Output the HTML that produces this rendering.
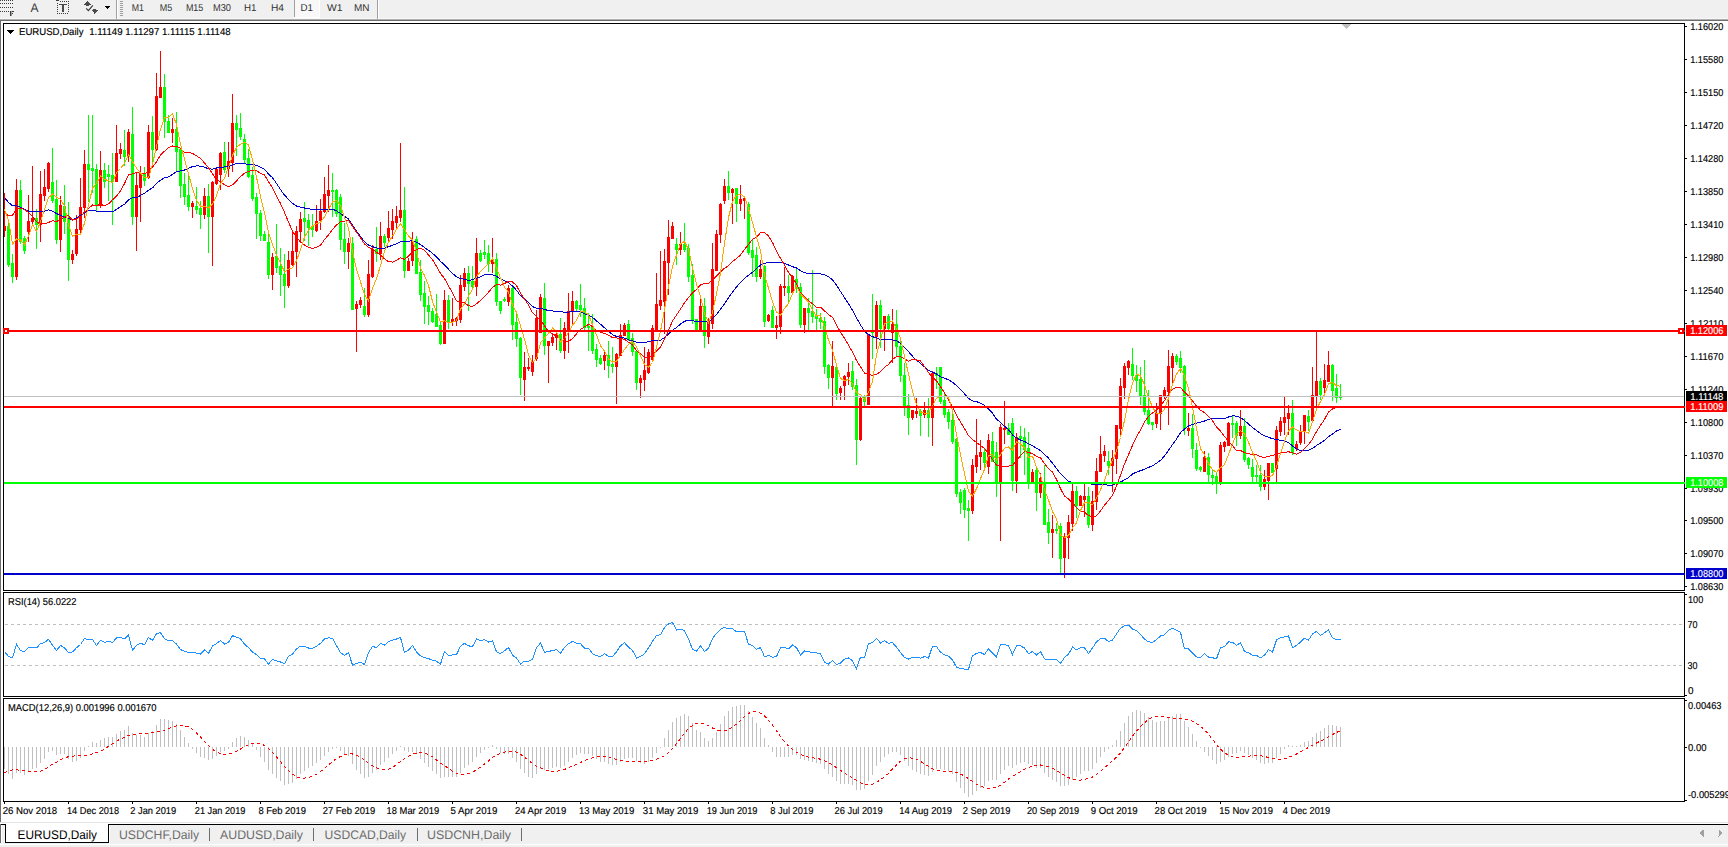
<!DOCTYPE html>
<html><head><meta charset="utf-8"><title>EURUSD,Daily</title>
<style>
html,body{margin:0;padding:0;background:#fff;overflow:hidden;width:1728px;height:847px}
svg{display:block}
text{font-family:"Liberation Sans", sans-serif;text-rendering:geometricPrecision}
</style></head><body>
<svg width="1728" height="847" viewBox="0 0 1728 847" shape-rendering="crispEdges">
<rect x="0" y="0" width="1728" height="19" fill="#f0f0f0"/>
<rect x="0" y="18" width="1728" height="1" fill="#f7f7f7"/>
<rect x="0" y="19" width="1728" height="1" fill="#b0b0b0"/>
<rect x="0" y="20" width="1728" height="1" fill="#6e6e6e"/>
<rect x="116" y="0" width="1" height="19" fill="#a0a0a0"/>
<rect x="117" y="0" width="1" height="19" fill="#ffffff"/>
<rect x="377" y="0" width="1" height="19" fill="#a0a0a0"/>
<rect x="378" y="0" width="1" height="19" fill="#ffffff"/>
<rect x="294" y="0" width="1" height="17" fill="#a0a0a0"/>
<rect x="295" y="0" width="24" height="17" fill="#f8f8f8"/>
<rect x="319" y="0" width="1" height="18" fill="#ffffff"/>
<rect x="294" y="17" width="26" height="1" fill="#ffffff"/>
<rect x="120" y="1" width="3" height="1" fill="#a0a0a0"/>
<rect x="120" y="3" width="3" height="1" fill="#a0a0a0"/>
<rect x="120" y="5" width="3" height="1" fill="#a0a0a0"/>
<rect x="120" y="7" width="3" height="1" fill="#a0a0a0"/>
<rect x="120" y="9" width="3" height="1" fill="#a0a0a0"/>
<rect x="120" y="11" width="3" height="1" fill="#a0a0a0"/>
<rect x="120" y="13" width="3" height="1" fill="#a0a0a0"/>
<rect x="120" y="15" width="3" height="1" fill="#a0a0a0"/>
<text x="131.8" y="11" font-size="10" fill="#303030" textLength="12.2" lengthAdjust="spacingAndGlyphs">M1</text>
<text x="159.8" y="11" font-size="10" fill="#303030" textLength="12.5" lengthAdjust="spacingAndGlyphs">M5</text>
<text x="185.9" y="11" font-size="10" fill="#303030" textLength="17.4" lengthAdjust="spacingAndGlyphs">M15</text>
<text x="213" y="11" font-size="10" fill="#303030" textLength="18" lengthAdjust="spacingAndGlyphs">M30</text>
<text x="244" y="11" font-size="10" fill="#303030" textLength="12.5" lengthAdjust="spacingAndGlyphs">H1</text>
<text x="271" y="11" font-size="10" fill="#303030" textLength="13" lengthAdjust="spacingAndGlyphs">H4</text>
<text x="300.5" y="11" font-size="10" fill="#303030" textLength="12.5" lengthAdjust="spacingAndGlyphs">D1</text>
<text x="327" y="11" font-size="10" fill="#303030" textLength="15.5" lengthAdjust="spacingAndGlyphs">W1</text>
<text x="354" y="11" font-size="10" fill="#303030" textLength="15.5" lengthAdjust="spacingAndGlyphs">MN</text>
<rect x="0" y="21" width="1728" height="801" fill="#ffffff"/>
<rect x="0" y="20" width="1" height="802" fill="#6e6e6e"/>
<rect x="3" y="23" width="1682" height="1" fill="#000"/>
<rect x="3" y="590" width="1682" height="1" fill="#000"/>
<rect x="3" y="23" width="1" height="568" fill="#000"/>
<rect x="1684" y="23" width="1" height="568" fill="#000"/>
<rect x="3" y="592" width="1682" height="1" fill="#000"/>
<rect x="3" y="696" width="1682" height="1" fill="#000"/>
<rect x="3" y="592" width="1" height="105" fill="#000"/>
<rect x="1684" y="592" width="1" height="105" fill="#000"/>
<rect x="3" y="698" width="1682" height="1" fill="#000"/>
<rect x="3" y="801" width="1682" height="1" fill="#000"/>
<rect x="3" y="698" width="1" height="104" fill="#000"/>
<rect x="1684" y="698" width="1" height="104" fill="#000"/>
<defs><clipPath id="mainclip"><rect x="4" y="24" width="1680" height="566"/></clipPath><clipPath id="rsiclip"><rect x="4" y="593" width="1680" height="103"/></clipPath><clipPath id="macdclip"><rect x="4" y="699" width="1680" height="102"/></clipPath></defs>
<rect x="1685" y="26" width="2" height="1" fill="#000"/>
<text x="1690.2" y="30" font-size="10" fill="#000" stroke="#000" stroke-width="0.15" textLength="33.2" lengthAdjust="spacingAndGlyphs">1.16020</text>
<rect x="1685" y="59" width="2" height="1" fill="#000"/>
<text x="1690.2" y="63" font-size="10" fill="#000" stroke="#000" stroke-width="0.15" textLength="33.2" lengthAdjust="spacingAndGlyphs">1.15580</text>
<rect x="1685" y="92" width="2" height="1" fill="#000"/>
<text x="1690.2" y="96" font-size="10" fill="#000" stroke="#000" stroke-width="0.15" textLength="33.2" lengthAdjust="spacingAndGlyphs">1.15150</text>
<rect x="1685" y="125" width="2" height="1" fill="#000"/>
<text x="1690.2" y="129" font-size="10" fill="#000" stroke="#000" stroke-width="0.15" textLength="33.2" lengthAdjust="spacingAndGlyphs">1.14720</text>
<rect x="1685" y="158" width="2" height="1" fill="#000"/>
<text x="1690.2" y="162" font-size="10" fill="#000" stroke="#000" stroke-width="0.15" textLength="33.2" lengthAdjust="spacingAndGlyphs">1.14280</text>
<rect x="1685" y="191" width="2" height="1" fill="#000"/>
<text x="1690.2" y="195" font-size="10" fill="#000" stroke="#000" stroke-width="0.15" textLength="33.2" lengthAdjust="spacingAndGlyphs">1.13850</text>
<rect x="1685" y="224" width="2" height="1" fill="#000"/>
<text x="1690.2" y="228" font-size="10" fill="#000" stroke="#000" stroke-width="0.15" textLength="33.2" lengthAdjust="spacingAndGlyphs">1.13410</text>
<rect x="1685" y="257" width="2" height="1" fill="#000"/>
<text x="1690.2" y="261" font-size="10" fill="#000" stroke="#000" stroke-width="0.15" textLength="33.2" lengthAdjust="spacingAndGlyphs">1.12980</text>
<rect x="1685" y="290" width="2" height="1" fill="#000"/>
<text x="1690.2" y="294" font-size="10" fill="#000" stroke="#000" stroke-width="0.15" textLength="33.2" lengthAdjust="spacingAndGlyphs">1.12540</text>
<rect x="1685" y="323" width="2" height="1" fill="#000"/>
<text x="1690.2" y="327" font-size="10" fill="#000" stroke="#000" stroke-width="0.15" textLength="33.2" lengthAdjust="spacingAndGlyphs">1.12110</text>
<rect x="1685" y="356" width="2" height="1" fill="#000"/>
<text x="1690.2" y="360" font-size="10" fill="#000" stroke="#000" stroke-width="0.15" textLength="33.2" lengthAdjust="spacingAndGlyphs">1.11670</text>
<rect x="1685" y="389" width="2" height="1" fill="#000"/>
<text x="1690.2" y="393" font-size="10" fill="#000" stroke="#000" stroke-width="0.15" textLength="33.2" lengthAdjust="spacingAndGlyphs">1.11240</text>
<rect x="1685" y="422" width="2" height="1" fill="#000"/>
<text x="1690.2" y="426" font-size="10" fill="#000" stroke="#000" stroke-width="0.15" textLength="33.2" lengthAdjust="spacingAndGlyphs">1.10800</text>
<rect x="1685" y="455" width="2" height="1" fill="#000"/>
<text x="1690.2" y="459" font-size="10" fill="#000" stroke="#000" stroke-width="0.15" textLength="33.2" lengthAdjust="spacingAndGlyphs">1.10370</text>
<rect x="1685" y="488" width="2" height="1" fill="#000"/>
<text x="1690.2" y="492" font-size="10" fill="#000" stroke="#000" stroke-width="0.15" textLength="33.2" lengthAdjust="spacingAndGlyphs">1.09930</text>
<rect x="1685" y="520" width="2" height="1" fill="#000"/>
<text x="1690.2" y="524" font-size="10" fill="#000" stroke="#000" stroke-width="0.15" textLength="33.2" lengthAdjust="spacingAndGlyphs">1.09500</text>
<rect x="1685" y="553" width="2" height="1" fill="#000"/>
<text x="1690.2" y="557" font-size="10" fill="#000" stroke="#000" stroke-width="0.15" textLength="33.2" lengthAdjust="spacingAndGlyphs">1.09070</text>
<rect x="1685" y="586" width="2" height="1" fill="#000"/>
<text x="1690.2" y="590" font-size="10" fill="#000" stroke="#000" stroke-width="0.15" textLength="33.2" lengthAdjust="spacingAndGlyphs">1.08630</text>
<path d="M7,30 h7 l-3.5,4 z" fill="#000"/>
<text x="19" y="35" font-size="10" fill="#000" stroke="#000" stroke-width="0.15" textLength="64.5" lengthAdjust="spacingAndGlyphs">EURUSD,Daily</text>
<text x="89.2" y="35" font-size="10" fill="#000" stroke="#000" stroke-width="0.15" textLength="141.5" lengthAdjust="spacingAndGlyphs">1.11149 1.11297 1.11115 1.11148</text>
<rect x="1342" y="24" width="9" height="1" fill="#c0c0c0"/>
<rect x="1343" y="25" width="7" height="1" fill="#c0c0c0"/>
<rect x="1344" y="26" width="5" height="1" fill="#c0c0c0"/>
<rect x="1345" y="27" width="3" height="1" fill="#c0c0c0"/>
<rect x="1346" y="28" width="1" height="1" fill="#c0c0c0"/>
<text x="8" y="605" font-size="10" fill="#000" stroke="#000" stroke-width="0.15" textLength="68.5" lengthAdjust="spacingAndGlyphs">RSI(14) 56.0222</text>
<text x="1688" y="603" font-size="10" fill="#000" stroke="#000" stroke-width="0.15" textLength="15.2" lengthAdjust="spacingAndGlyphs">100</text>
<text x="1687.5" y="628" font-size="10" fill="#000" stroke="#000" stroke-width="0.15" textLength="10" lengthAdjust="spacingAndGlyphs">70</text>
<text x="1687.5" y="669" font-size="10" fill="#000" stroke="#000" stroke-width="0.15" textLength="10" lengthAdjust="spacingAndGlyphs">30</text>
<text x="1688" y="693.5" font-size="10" fill="#000" stroke="#000" stroke-width="0.15" textLength="5.5" lengthAdjust="spacingAndGlyphs">0</text>
<rect x="1685" y="594" width="2" height="1" fill="#000"/>
<rect x="1685" y="695" width="2" height="1" fill="#000"/>
<line x1="5" y1="624.5" x2="1683" y2="624.5" stroke="#c0c0c0" stroke-width="1" stroke-dasharray="3,3"/>
<line x1="5" y1="665.5" x2="1683" y2="665.5" stroke="#c0c0c0" stroke-width="1" stroke-dasharray="3,3"/>
<text x="8" y="711" font-size="10" fill="#000" stroke="#000" stroke-width="0.15" textLength="148.5" lengthAdjust="spacingAndGlyphs">MACD(12,26,9) 0.001996 0.001670</text>
<text x="1688" y="709" font-size="10" fill="#000" stroke="#000" stroke-width="0.15" textLength="33.5" lengthAdjust="spacingAndGlyphs">0.00463</text>
<text x="1688" y="750.5" font-size="10" fill="#000" stroke="#000" stroke-width="0.15" textLength="18.5" lengthAdjust="spacingAndGlyphs">0.00</text>
<text x="1688" y="797.6" font-size="10" fill="#000" stroke="#000" stroke-width="0.15" textLength="42" lengthAdjust="spacingAndGlyphs">-0.005299</text>
<rect x="1685" y="700" width="2" height="1" fill="#000"/>
<rect x="1685" y="747" width="2" height="1" fill="#000"/>
<rect x="1685" y="800" width="2" height="1" fill="#000"/>
<rect x="4" y="802" width="1" height="2" fill="#000"/>
<text x="2.7" y="814" font-size="10" fill="#000" stroke="#000" stroke-width="0.15" textLength="54.5" lengthAdjust="spacingAndGlyphs">26 Nov 2018</text>
<rect x="68" y="802" width="1" height="2" fill="#000"/>
<text x="67.0" y="814" font-size="10" fill="#000" stroke="#000" stroke-width="0.15" textLength="52.1" lengthAdjust="spacingAndGlyphs">14 Dec 2018</text>
<rect x="132" y="802" width="1" height="2" fill="#000"/>
<text x="130.3" y="814" font-size="10" fill="#000" stroke="#000" stroke-width="0.15" textLength="45.9" lengthAdjust="spacingAndGlyphs">2 Jan 2019</text>
<rect x="196" y="802" width="1" height="2" fill="#000"/>
<text x="194.8" y="814" font-size="10" fill="#000" stroke="#000" stroke-width="0.15" textLength="50.6" lengthAdjust="spacingAndGlyphs">21 Jan 2019</text>
<rect x="260" y="802" width="1" height="2" fill="#000"/>
<text x="258.4" y="814" font-size="10" fill="#000" stroke="#000" stroke-width="0.15" textLength="47.7" lengthAdjust="spacingAndGlyphs">8 Feb 2019</text>
<rect x="324" y="802" width="1" height="2" fill="#000"/>
<text x="322.7" y="814" font-size="10" fill="#000" stroke="#000" stroke-width="0.15" textLength="52.6" lengthAdjust="spacingAndGlyphs">27 Feb 2019</text>
<rect x="388" y="802" width="1" height="2" fill="#000"/>
<text x="386.6" y="814" font-size="10" fill="#000" stroke="#000" stroke-width="0.15" textLength="52.5" lengthAdjust="spacingAndGlyphs">18 Mar 2019</text>
<rect x="452" y="802" width="1" height="2" fill="#000"/>
<text x="450.5" y="814" font-size="10" fill="#000" stroke="#000" stroke-width="0.15" textLength="46.9" lengthAdjust="spacingAndGlyphs">5 Apr 2019</text>
<rect x="516" y="802" width="1" height="2" fill="#000"/>
<text x="514.9" y="814" font-size="10" fill="#000" stroke="#000" stroke-width="0.15" textLength="51.3" lengthAdjust="spacingAndGlyphs">24 Apr 2019</text>
<rect x="580" y="802" width="1" height="2" fill="#000"/>
<text x="578.9" y="814" font-size="10" fill="#000" stroke="#000" stroke-width="0.15" textLength="55.4" lengthAdjust="spacingAndGlyphs">13 May 2019</text>
<rect x="644" y="802" width="1" height="2" fill="#000"/>
<text x="642.8" y="814" font-size="10" fill="#000" stroke="#000" stroke-width="0.15" textLength="55.5" lengthAdjust="spacingAndGlyphs">31 May 2019</text>
<rect x="708" y="802" width="1" height="2" fill="#000"/>
<text x="706.7" y="814" font-size="10" fill="#000" stroke="#000" stroke-width="0.15" textLength="50.7" lengthAdjust="spacingAndGlyphs">19 Jun 2019</text>
<rect x="772" y="802" width="1" height="2" fill="#000"/>
<text x="770.2" y="814" font-size="10" fill="#000" stroke="#000" stroke-width="0.15" textLength="43.2" lengthAdjust="spacingAndGlyphs">8 Jul 2019</text>
<rect x="836" y="802" width="1" height="2" fill="#000"/>
<text x="834.6" y="814" font-size="10" fill="#000" stroke="#000" stroke-width="0.15" textLength="48.0" lengthAdjust="spacingAndGlyphs">26 Jul 2019</text>
<rect x="900" y="802" width="1" height="2" fill="#000"/>
<text x="899.3" y="814" font-size="10" fill="#000" stroke="#000" stroke-width="0.15" textLength="52.8" lengthAdjust="spacingAndGlyphs">14 Aug 2019</text>
<rect x="964" y="802" width="1" height="2" fill="#000"/>
<text x="962.8" y="814" font-size="10" fill="#000" stroke="#000" stroke-width="0.15" textLength="47.6" lengthAdjust="spacingAndGlyphs">2 Sep 2019</text>
<rect x="1028" y="802" width="1" height="2" fill="#000"/>
<text x="1027.0" y="814" font-size="10" fill="#000" stroke="#000" stroke-width="0.15" textLength="52.2" lengthAdjust="spacingAndGlyphs">20 Sep 2019</text>
<rect x="1092" y="802" width="1" height="2" fill="#000"/>
<text x="1090.7" y="814" font-size="10" fill="#000" stroke="#000" stroke-width="0.15" textLength="46.9" lengthAdjust="spacingAndGlyphs">9 Oct 2019</text>
<rect x="1156" y="802" width="1" height="2" fill="#000"/>
<text x="1154.6" y="814" font-size="10" fill="#000" stroke="#000" stroke-width="0.15" textLength="51.9" lengthAdjust="spacingAndGlyphs">28 Oct 2019</text>
<rect x="1220" y="802" width="1" height="2" fill="#000"/>
<text x="1219.3" y="814" font-size="10" fill="#000" stroke="#000" stroke-width="0.15" textLength="53.6" lengthAdjust="spacingAndGlyphs">15 Nov 2019</text>
<rect x="1284" y="802" width="1" height="2" fill="#000"/>
<text x="1282.8" y="814" font-size="10" fill="#000" stroke="#000" stroke-width="0.15" textLength="47.3" lengthAdjust="spacingAndGlyphs">4 Dec 2019</text>
<rect x="0" y="822" width="1728" height="1" fill="#e3e3e3"/>
<rect x="0" y="823" width="1728" height="1" fill="#ffffff"/>
<rect x="0" y="824" width="6" height="1" fill="#000000"/>
<rect x="108" y="824" width="1620" height="1" fill="#000000"/>
<rect x="0" y="825" width="1728" height="19" fill="#f0f0f0"/>
<rect x="0" y="844" width="1728" height="1" fill="#ffffff"/>
<rect x="0" y="845" width="1728" height="2" fill="#f0f0f0"/>
<rect x="0" y="824" width="1" height="19" fill="#6e6e6e"/>
<rect x="1" y="825" width="1" height="18" fill="#ffffff"/>
<rect x="5" y="824" width="104" height="19" fill="#000"/>
<rect x="6" y="823" width="102" height="19" fill="#ffffff"/>
<rect x="109" y="825" width="1" height="18" fill="#ffffff"/>
<text x="17.5" y="839" font-size="12.5" fill="#000" textLength="79.5" lengthAdjust="spacingAndGlyphs">EURUSD,Daily</text>
<text x="119" y="839" font-size="12.5" fill="#6d6d6d" textLength="80" lengthAdjust="spacingAndGlyphs">USDCHF,Daily</text>
<text x="220" y="839" font-size="12.5" fill="#6d6d6d" textLength="83" lengthAdjust="spacingAndGlyphs">AUDUSD,Daily</text>
<text x="324.6" y="839" font-size="12.5" fill="#6d6d6d" textLength="81.4" lengthAdjust="spacingAndGlyphs">USDCAD,Daily</text>
<text x="427" y="839" font-size="12.5" fill="#6d6d6d" textLength="84" lengthAdjust="spacingAndGlyphs">USDCNH,Daily</text>
<rect x="209" y="828" width="1" height="13" fill="#6d6d6d"/>
<rect x="313" y="828" width="1" height="13" fill="#6d6d6d"/>
<rect x="417" y="828" width="1" height="13" fill="#6d6d6d"/>
<rect x="521" y="828" width="1" height="13" fill="#6d6d6d"/>
<path d="M1703.5,829.5 v7 l-4,-3.5 z" fill="#a0a0a0"/>
<path d="M1718.5,829.5 v7 l4,-3.5 z" fill="#a0a0a0"/>
<rect x="0" y="0" width="1" height="1" fill="#3c3c3c"/>
<rect x="2" y="0" width="1" height="1" fill="#3c3c3c"/>
<rect x="4" y="0" width="1" height="1" fill="#3c3c3c"/>
<rect x="6" y="0" width="1" height="1" fill="#3c3c3c"/>
<rect x="8" y="0" width="1" height="1" fill="#3c3c3c"/>
<rect x="10" y="0" width="1" height="1" fill="#3c3c3c"/>
<rect x="12" y="0" width="1" height="1" fill="#3c3c3c"/>
<rect x="0" y="3" width="1" height="1" fill="#3c3c3c"/>
<rect x="2" y="3" width="1" height="1" fill="#3c3c3c"/>
<rect x="4" y="3" width="1" height="1" fill="#3c3c3c"/>
<rect x="6" y="3" width="1" height="1" fill="#3c3c3c"/>
<rect x="8" y="3" width="1" height="1" fill="#3c3c3c"/>
<rect x="10" y="3" width="1" height="1" fill="#3c3c3c"/>
<rect x="12" y="3" width="1" height="1" fill="#3c3c3c"/>
<rect x="0" y="7" width="1" height="1" fill="#3c3c3c"/>
<rect x="2" y="7" width="1" height="1" fill="#3c3c3c"/>
<rect x="4" y="7" width="1" height="1" fill="#3c3c3c"/>
<rect x="6" y="7" width="1" height="1" fill="#3c3c3c"/>
<rect x="8" y="7" width="1" height="1" fill="#3c3c3c"/>
<rect x="10" y="7" width="1" height="1" fill="#3c3c3c"/>
<rect x="12" y="7" width="1" height="1" fill="#3c3c3c"/>
<rect x="0" y="11" width="1" height="1" fill="#3c3c3c"/>
<rect x="2" y="11" width="1" height="1" fill="#3c3c3c"/>
<rect x="4" y="11" width="1" height="1" fill="#3c3c3c"/>
<rect x="6" y="11" width="1" height="1" fill="#3c3c3c"/>
<rect x="8" y="11" width="1" height="1" fill="#3c3c3c"/>
<rect x="10" y="11" width="1" height="5" fill="#3c3c3c"/>
<rect x="10" y="11" width="4" height="1" fill="#3c3c3c"/>
<rect x="10" y="13" width="3" height="1" fill="#3c3c3c"/>
<rect x="11" y="11" width="1" height="5" fill="#9a9a9a"/>
<text x="30.6" y="12.2" font-size="12.5" fill="#3a3a3a" textLength="8" lengthAdjust="spacingAndGlyphs">A</text>
<rect x="56" y="0" width="3" height="1" fill="#3c3c3c"/>
<rect x="60" y="1" width="1" height="1" fill="#3c3c3c"/>
<rect x="62" y="1" width="1" height="1" fill="#3c3c3c"/>
<rect x="64" y="1" width="1" height="1" fill="#3c3c3c"/>
<rect x="66" y="1" width="1" height="1" fill="#3c3c3c"/>
<rect x="68" y="1" width="1" height="1" fill="#3c3c3c"/>
<rect x="57" y="3" width="1" height="1" fill="#3c3c3c"/>
<rect x="68" y="3" width="1" height="1" fill="#3c3c3c"/>
<rect x="57" y="5" width="1" height="1" fill="#3c3c3c"/>
<rect x="68" y="5" width="1" height="1" fill="#3c3c3c"/>
<rect x="57" y="7" width="1" height="1" fill="#3c3c3c"/>
<rect x="68" y="7" width="1" height="1" fill="#3c3c3c"/>
<rect x="57" y="9" width="1" height="1" fill="#3c3c3c"/>
<rect x="68" y="9" width="1" height="1" fill="#3c3c3c"/>
<rect x="57" y="11" width="1" height="1" fill="#3c3c3c"/>
<rect x="68" y="11" width="1" height="1" fill="#3c3c3c"/>
<rect x="57" y="13" width="1" height="1" fill="#3c3c3c"/>
<rect x="59" y="13" width="1" height="1" fill="#3c3c3c"/>
<rect x="61" y="13" width="1" height="1" fill="#3c3c3c"/>
<rect x="63" y="13" width="1" height="1" fill="#3c3c3c"/>
<rect x="65" y="13" width="1" height="1" fill="#3c3c3c"/>
<rect x="67" y="13" width="1" height="1" fill="#3c3c3c"/>
<rect x="59" y="4" width="8" height="1" fill="#4a4a4a"/>
<rect x="62" y="4" width="2" height="8" fill="#4a4a4a"/>
<path d="M83.8,4.7 L87.4,1 L91,4.7 Z" fill="#4a4a4a"/>
<rect x="86" y="4" width="3" height="2" fill="#4a4a4a"/>
<polyline points="86.2,8.3 88.4,10.6 92.8,5.4" fill="none" stroke="#3a3a3a" stroke-width="1.2" shape-rendering="auto"/>
<path d="M91.3,10 L98.2,10 L94.75,13.8 Z" fill="#4a4a4a"/>
<rect x="93" y="9" width="3" height="1" fill="#4a4a4a"/>
<path d="M104.8,6 L110,6 L107.4,9.2 Z" fill="#000"/>
<g clip-path="url(#mainclip)">
<path d="M4,193h1v44h-1zM16,179h1v101h-1zM28,195h1v47h-1zM32,166h1v60h-1zM40,171h1v71h-1zM44,169h1v32h-1zM48,162h1v30h-1zM60,196h1v56h-1zM72,250h1v14h-1zM76,215h1v41h-1zM80,178h1v55h-1zM84,150h1v68h-1zM100,151h1v57h-1zM116,125h1v57h-1zM120,143h1v16h-1zM128,129h1v33h-1zM136,173h1v78h-1zM140,166h1v56h-1zM148,125h1v54h-1zM156,73h1v78h-1zM160,51h1v47h-1zM172,118h1v25h-1zM192,201h1v17h-1zM204,188h1v31h-1zM212,181h1v85h-1zM216,169h1v16h-1zM220,152h1v38h-1zM228,142h1v35h-1zM232,94h1v78h-1zM272,253h1v37h-1zM288,251h1v37h-1zM292,230h1v36h-1zM296,226h1v51h-1zM300,212h1v29h-1zM316,205h1v27h-1zM320,199h1v31h-1zM324,177h1v36h-1zM328,165h1v47h-1zM348,238h1v31h-1zM356,301h1v51h-1zM360,297h1v11h-1zM368,260h1v57h-1zM372,245h1v33h-1zM380,222h1v38h-1zM388,211h1v31h-1zM392,209h1v30h-1zM396,206h1v23h-1zM400,143h1v79h-1zM408,258h1v13h-1zM412,232h1v34h-1zM444,290h1v54h-1zM452,298h1v28h-1zM456,317h1v9h-1zM460,275h1v48h-1zM464,268h1v23h-1zM476,238h1v58h-1zM492,238h1v35h-1zM508,285h1v21h-1zM524,352h1v49h-1zM528,358h1v13h-1zM532,355h1v21h-1zM536,310h1v51h-1zM540,294h1v39h-1zM548,341h1v42h-1zM552,333h1v13h-1zM556,330h1v20h-1zM564,322h1v37h-1zM568,293h1v60h-1zM572,291h1v33h-1zM604,352h1v18h-1zM616,353h1v51h-1zM620,324h1v32h-1zM624,323h1v13h-1zM640,375h1v23h-1zM644,347h1v44h-1zM648,349h1v25h-1zM652,325h1v36h-1zM656,273h1v58h-1zM660,251h1v59h-1zM664,249h1v85h-1zM668,220h1v75h-1zM672,222h1v17h-1zM680,232h1v23h-1zM700,298h1v34h-1zM708,318h1v26h-1zM712,243h1v86h-1zM716,230h1v41h-1zM720,203h1v40h-1zM724,179h1v25h-1zM732,188h1v36h-1zM740,185h1v26h-1zM744,197h1v22h-1zM760,260h1v19h-1zM768,314h1v8h-1zM776,316h1v23h-1zM780,284h1v50h-1zM784,267h1v29h-1zM792,275h1v18h-1zM804,308h1v25h-1zM832,341h1v66h-1zM840,386h1v14h-1zM844,375h1v25h-1zM848,363h1v22h-1zM860,397h1v44h-1zM868,334h1v71h-1zM876,301h1v48h-1zM884,316h1v35h-1zM892,309h1v54h-1zM912,410h1v10h-1zM916,398h1v20h-1zM924,402h1v16h-1zM932,371h1v75h-1zM972,459h1v55h-1zM976,419h1v54h-1zM980,440h1v30h-1zM988,434h1v40h-1zM1000,424h1v117h-1zM1004,401h1v43h-1zM1016,433h1v60h-1zM1032,469h1v14h-1zM1040,473h1v25h-1zM1052,515h1v43h-1zM1064,533h1v45h-1zM1068,515h1v44h-1zM1072,484h1v47h-1zM1080,495h1v11h-1zM1084,484h1v33h-1zM1092,491h1v40h-1zM1096,458h1v52h-1zM1100,436h1v36h-1zM1104,445h1v17h-1zM1112,450h1v42h-1zM1116,425h1v49h-1zM1120,378h1v58h-1zM1124,363h1v36h-1zM1128,360h1v15h-1zM1156,403h1v25h-1zM1160,395h1v35h-1zM1164,387h1v12h-1zM1168,350h1v75h-1zM1172,353h1v32h-1zM1188,413h1v23h-1zM1204,451h1v21h-1zM1220,442h1v43h-1zM1224,441h1v11h-1zM1228,422h1v24h-1zM1240,410h1v29h-1zM1264,470h1v20h-1zM1268,463h1v37h-1zM1276,426h1v57h-1zM1280,417h1v19h-1zM1284,396h1v39h-1zM1288,405h1v30h-1zM1296,441h1v10h-1zM1300,425h1v20h-1zM1304,415h1v29h-1zM1312,367h1v55h-1zM1316,331h1v76h-1zM1324,364h1v29h-1zM1328,351h1v31h-1z" fill="#ff0000"/>
<path d="M8,220h1v47h-1zM12,254h1v29h-1zM20,180h1v64h-1zM24,236h1v18h-1zM36,209h1v40h-1zM52,148h1v55h-1zM56,180h1v64h-1zM64,185h1v49h-1zM68,202h1v79h-1zM88,115h1v87h-1zM92,115h1v78h-1zM96,164h1v47h-1zM104,163h1v25h-1zM108,165h1v36h-1zM112,153h1v72h-1zM124,130h1v36h-1zM132,107h1v118h-1zM144,167h1v19h-1zM152,116h1v46h-1zM164,74h1v64h-1zM168,115h1v18h-1zM176,112h1v60h-1zM180,149h1v49h-1zM184,173h1v32h-1zM188,175h1v36h-1zM196,187h1v27h-1zM200,201h1v28h-1zM208,184h1v69h-1zM224,142h1v31h-1zM236,115h1v41h-1zM240,113h1v27h-1zM244,134h1v29h-1zM248,149h1v29h-1zM252,167h1v34h-1zM256,193h1v46h-1zM260,210h1v31h-1zM264,231h1v10h-1zM268,234h1v45h-1zM276,224h1v49h-1zM280,248h1v48h-1zM284,254h1v54h-1zM304,202h1v39h-1zM308,214h1v32h-1zM312,214h1v23h-1zM332,173h1v44h-1zM336,189h1v28h-1zM340,194h1v56h-1zM344,223h1v41h-1zM352,237h1v73h-1zM364,288h1v29h-1zM376,227h1v35h-1zM384,234h1v13h-1zM404,187h1v91h-1zM416,236h1v38h-1zM420,260h1v41h-1zM424,281h1v43h-1zM428,296h1v29h-1zM432,308h1v15h-1zM436,294h1v33h-1zM440,321h1v24h-1zM448,295h1v34h-1zM468,266h1v45h-1zM472,266h1v22h-1zM480,250h1v12h-1zM484,240h1v19h-1zM488,245h1v27h-1zM496,253h1v53h-1zM500,301h1v13h-1zM504,297h1v5h-1zM512,286h1v54h-1zM516,313h1v34h-1zM520,337h1v58h-1zM544,283h1v72h-1zM560,318h1v35h-1zM576,300h1v11h-1zM580,284h1v33h-1zM584,298h1v33h-1zM588,313h1v38h-1zM592,314h1v40h-1zM596,344h1v23h-1zM600,355h1v10h-1zM608,341h1v37h-1zM612,347h1v26h-1zM628,320h1v21h-1zM632,333h1v23h-1zM636,350h1v40h-1zM676,238h1v27h-1zM684,223h1v29h-1zM688,244h1v38h-1zM692,264h1v60h-1zM696,319h1v12h-1zM704,298h1v50h-1zM728,171h1v29h-1zM736,188h1v34h-1zM748,202h1v53h-1zM752,240h1v37h-1zM756,247h1v35h-1zM764,265h1v62h-1zM772,306h1v22h-1zM788,275h1v28h-1zM796,268h1v25h-1zM800,283h1v45h-1zM808,298h1v32h-1zM812,270h1v53h-1zM816,309h1v22h-1zM820,313h1v16h-1zM824,317h1v57h-1zM828,364h1v25h-1zM836,365h1v35h-1zM852,361h1v29h-1zM856,379h1v86h-1zM864,395h1v11h-1zM872,294h1v65h-1zM880,300h1v48h-1zM888,314h1v18h-1zM896,310h1v47h-1zM900,340h1v42h-1zM904,363h1v53h-1zM908,394h1v41h-1zM920,409h1v27h-1zM928,398h1v39h-1zM936,367h1v22h-1zM940,367h1v37h-1zM944,394h1v24h-1zM948,409h1v20h-1zM952,414h1v30h-1zM956,438h1v59h-1zM960,489h1v25h-1zM964,488h1v30h-1zM968,500h1v41h-1zM984,448h1v19h-1zM992,432h1v30h-1zM996,442h1v55h-1zM1008,423h1v12h-1zM1012,418h1v73h-1zM1020,426h1v32h-1zM1024,428h1v47h-1zM1028,432h1v57h-1zM1036,468h1v43h-1zM1044,465h1v60h-1zM1048,509h1v35h-1zM1056,523h1v11h-1zM1060,523h1v50h-1zM1076,486h1v32h-1zM1088,487h1v41h-1zM1108,451h1v24h-1zM1132,348h1v32h-1zM1136,365h1v27h-1zM1140,367h1v38h-1zM1144,360h1v55h-1zM1148,390h1v35h-1zM1152,422h1v8h-1zM1176,354h1v11h-1zM1180,351h1v22h-1zM1184,365h1v70h-1zM1192,414h1v44h-1zM1196,443h1v28h-1zM1200,466h1v6h-1zM1208,453h1v30h-1zM1212,470h1v15h-1zM1216,473h1v21h-1zM1232,416h1v22h-1zM1236,421h1v25h-1zM1244,418h1v44h-1zM1248,457h1v12h-1zM1252,459h1v23h-1zM1256,465h1v17h-1zM1260,465h1v26h-1zM1272,463h1v10h-1zM1292,400h1v55h-1zM1308,410h1v21h-1zM1320,378h1v22h-1zM1332,364h1v37h-1zM1336,374h1v29h-1zM1340,384h1v16h-1z" fill="#00ff00"/>
<path d="M3,226h3v5h-3zM15,190h3v87h-3zM27,221h3v11h-3zM31,218h3v4h-3zM39,194h3v31h-3zM43,187h3v9h-3zM47,163h3v26h-3zM59,205h3v35h-3zM71,254h3v6h-3zM75,229h3v25h-3zM79,207h3v23h-3zM83,164h3v44h-3zM99,170h3v36h-3zM115,153h3v29h-3zM119,149h3v5h-3zM127,132h3v24h-3zM135,185h3v32h-3zM139,173h3v15h-3zM147,132h3v46h-3zM155,96h3v54h-3zM159,87h3v11h-3zM171,129h3v4h-3zM191,203h3v4h-3zM203,196h3v19h-3zM211,182h3v35h-3zM215,169h3v15h-3zM219,153h3v22h-3zM227,161h3v8h-3zM231,123h3v40h-3zM271,257h3v18h-3zM287,260h3v26h-3zM291,251h3v14h-3zM295,231h3v21h-3zM299,219h3v13h-3zM315,221h3v10h-3zM319,211h3v10h-3zM323,194h3v18h-3zM327,190h3v6h-3zM347,243h3v9h-3zM355,304h3v5h-3zM359,300h3v5h-3zM367,274h3v41h-3zM371,249h3v28h-3zM379,236h3v18h-3zM387,228h3v10h-3zM391,221h3v9h-3zM395,216h3v7h-3zM399,210h3v8h-3zM407,261h3v10h-3zM411,241h3v20h-3zM443,300h3v44h-3zM451,319h3v3h-3zM455,318h3v3h-3zM459,285h3v35h-3zM463,273h3v14h-3zM475,253h3v34h-3zM491,259h3v5h-3zM507,288h3v14h-3zM523,367h3v13h-3zM527,367h3v2h-3zM531,362h3v10h-3zM535,318h3v41h-3zM539,297h3v36h-3zM547,341h3v5h-3zM551,337h3v6h-3zM555,334h3v4h-3zM563,328h3v23h-3zM567,311h3v19h-3zM571,301h3v11h-3zM603,355h3v6h-3zM615,354h3v13h-3zM619,335h3v21h-3zM623,325h3v11h-3zM639,378h3v5h-3zM643,370h3v10h-3zM647,352h3v21h-3zM651,328h3v32h-3zM655,304h3v26h-3zM659,300h3v6h-3zM663,261h3v41h-3zM667,237h3v26h-3zM671,226h3v13h-3zM679,244h3v6h-3zM699,306h3v26h-3zM707,321h3v16h-3zM711,269h3v55h-3zM715,234h3v37h-3zM719,204h3v31h-3zM723,186h3v15h-3zM731,189h3v4h-3zM739,199h3v5h-3zM743,198h3v3h-3zM759,269h3v8h-3zM767,315h3v6h-3zM775,325h3v3h-3zM779,286h3v41h-3zM783,286h3v2h-3zM791,276h3v17h-3zM803,308h3v17h-3zM831,366h3v12h-3zM839,388h3v5h-3zM843,376h3v10h-3zM847,372h3v5h-3zM859,398h3v42h-3zM867,334h3v71h-3zM875,305h3v32h-3zM883,316h3v13h-3zM891,324h3v9h-3zM911,410h3v8h-3zM915,411h3v3h-3zM923,410h3v5h-3zM931,373h3v45h-3zM971,465h3v46h-3zM975,455h3v12h-3zM979,452h3v5h-3zM987,440h3v27h-3zM999,427h3v56h-3zM1003,428h3v2h-3zM1015,437h3v44h-3zM1031,472h3v11h-3zM1039,478h3v15h-3zM1051,529h3v4h-3zM1063,536h3v22h-3zM1067,522h3v16h-3zM1071,491h3v33h-3zM1079,496h3v10h-3zM1083,496h3v4h-3zM1091,501h3v24h-3zM1095,471h3v31h-3zM1099,454h3v18h-3zM1103,451h3v5h-3zM1111,458h3v8h-3zM1115,425h3v34h-3zM1119,386h3v43h-3zM1123,366h3v22h-3zM1127,361h3v7h-3zM1155,413h3v11h-3zM1159,395h3v19h-3zM1163,390h3v7h-3zM1167,366h3v26h-3zM1171,356h3v12h-3zM1187,428h3v3h-3zM1203,457h3v15h-3zM1219,445h3v38h-3zM1223,442h3v5h-3zM1227,423h3v23h-3zM1239,426h3v10h-3zM1263,479h3v8h-3zM1267,463h3v18h-3zM1275,430h3v39h-3zM1279,421h3v11h-3zM1283,417h3v6h-3zM1287,413h3v6h-3zM1295,444h3v5h-3zM1299,431h3v12h-3zM1303,415h3v16h-3zM1311,395h3v26h-3zM1315,381h3v15h-3zM1323,380h3v8h-3zM1327,365h3v17h-3z" fill="#ff0000"/>
<path d="M7,226h3v39h-3zM11,263h3v14h-3zM19,190h3v52h-3zM23,238h3v13h-3zM35,218h3v7h-3zM51,182h3v19h-3zM55,199h3v41h-3zM63,206h3v16h-3zM67,219h3v41h-3zM87,164h3v6h-3zM91,168h3v3h-3zM95,169h3v36h-3zM103,170h3v12h-3zM107,174h3v3h-3zM111,175h3v7h-3zM123,150h3v7h-3zM131,134h3v83h-3zM143,173h3v8h-3zM151,132h3v18h-3zM163,87h3v35h-3zM167,121h3v12h-3zM175,129h3v23h-3zM179,149h3v37h-3zM183,184h3v13h-3zM187,195h3v12h-3zM195,206h3v4h-3zM199,208h3v7h-3zM207,196h3v21h-3zM223,152h3v18h-3zM235,123h3v7h-3zM239,128h3v9h-3zM243,139h3v21h-3zM247,158h3v19h-3zM251,175h3v24h-3zM255,197h3v17h-3zM259,213h3v23h-3zM263,234h3v7h-3zM267,242h3v33h-3zM275,256h3v12h-3zM279,266h3v9h-3zM283,274h3v12h-3zM303,218h3v4h-3zM307,220h3v8h-3zM311,226h3v4h-3zM331,190h3v2h-3zM335,190h3v24h-3zM339,197h3v43h-3zM343,239h3v13h-3zM351,243h3v67h-3zM363,306h3v9h-3zM375,249h3v5h-3zM383,236h3v7h-3zM403,210h3v61h-3zM415,239h3v35h-3zM419,272h3v23h-3zM423,293h3v14h-3zM427,305h3v7h-3zM431,311h3v11h-3zM435,314h3v13h-3zM439,325h3v19h-3zM447,300h3v22h-3zM467,273h3v11h-3zM471,281h3v6h-3zM479,253h3v8h-3zM483,252h3v3h-3zM487,253h3v11h-3zM495,259h3v43h-3zM499,301h3v10h-3zM503,299h3v2h-3zM511,288h3v37h-3zM515,322h3v17h-3zM519,338h3v40h-3zM543,298h3v48h-3zM559,334h3v17h-3zM575,301h3v8h-3zM579,305h3v5h-3zM583,308h3v20h-3zM587,326h3v2h-3zM591,326h3v25h-3zM595,349h3v11h-3zM599,358h3v6h-3zM607,355h3v11h-3zM611,364h3v3h-3zM627,324h3v16h-3zM631,338h3v14h-3zM635,351h3v32h-3zM675,244h3v6h-3zM683,244h3v6h-3zM687,248h3v29h-3zM691,275h3v46h-3zM695,319h3v11h-3zM703,306h3v30h-3zM727,186h3v7h-3zM735,188h3v16h-3zM747,204h3v49h-3zM751,250h3v8h-3zM755,255h3v22h-3zM763,266h3v56h-3zM771,310h3v18h-3zM787,286h3v7h-3zM795,279h3v10h-3zM799,287h3v38h-3zM807,308h3v5h-3zM811,311h3v6h-3zM815,316h3v3h-3zM819,318h3v4h-3zM823,321h3v46h-3zM827,365h3v13h-3zM835,367h3v27h-3zM851,371h3v16h-3zM855,385h3v55h-3zM863,397h3v5h-3zM871,330h3v3h-3zM879,305h3v24h-3zM887,316h3v13h-3zM895,324h3v23h-3zM899,346h3v30h-3zM903,375h3v32h-3zM907,405h3v13h-3zM919,411h3v5h-3zM927,410h3v8h-3zM935,373h3v3h-3zM939,367h3v35h-3zM943,400h3v15h-3zM947,412h3v10h-3zM951,420h3v22h-3zM955,439h3v55h-3zM959,492h3v11h-3zM963,490h3v20h-3zM967,508h3v3h-3zM983,452h3v11h-3zM991,441h3v21h-3zM995,452h3v31h-3zM1007,428h3v7h-3zM1011,423h3v58h-3zM1019,436h3v3h-3zM1023,437h3v13h-3zM1027,448h3v35h-3zM1035,470h3v23h-3zM1043,483h3v42h-3zM1047,522h3v11h-3zM1055,529h3v2h-3zM1059,526h3v33h-3zM1075,491h3v15h-3zM1087,496h3v29h-3zM1107,461h3v5h-3zM1131,364h3v12h-3zM1135,375h3v6h-3zM1139,379h3v17h-3zM1143,395h3v17h-3zM1147,410h3v14h-3zM1151,422h3v3h-3zM1175,356h3v6h-3zM1179,358h3v10h-3zM1183,366h3v63h-3zM1191,428h3v21h-3zM1195,450h3v19h-3zM1199,467h3v3h-3zM1207,457h3v18h-3zM1211,475h3v3h-3zM1215,476h3v8h-3zM1231,423h3v2h-3zM1235,423h3v13h-3zM1243,426h3v34h-3zM1247,458h3v7h-3zM1251,467h3v10h-3zM1255,475h3v2h-3zM1259,475h3v12h-3zM1271,463h3v10h-3zM1291,413h3v40h-3zM1307,416h3v6h-3zM1319,381h3v14h-3zM1331,365h3v26h-3zM1335,388h3v10h-3zM1339,396h3v2h-3z" fill="#00ff00"/>
</g>
<g clip-path="url(#mainclip)">
<polyline points="4.5,197.7 8.5,202.4 12.5,205.7 16.5,205.7 20.5,207.1 24.5,209.5 28.5,211.0 32.5,211.0 36.5,211.0 40.5,211.0 44.5,211.0 48.5,209.8 52.5,211.2 56.5,213.6 60.5,215.4 64.5,217.2 68.5,218.4 72.5,219.6 76.5,217.8 80.5,215.4 84.5,213.1 88.5,210.1 92.5,210.1 96.5,211.1 100.5,211.9 104.5,211.9 108.5,211.9 112.5,211.7 116.5,209.5 120.5,206.7 124.5,204.3 128.5,199.9 132.5,197.9 136.5,197.8 140.5,195.5 144.5,193.2 148.5,190.2 152.5,187.9 156.5,183.6 160.5,180.1 164.5,177.9 168.5,176.8 172.5,174.5 176.5,171.5 180.5,170.9 184.5,170.0 188.5,168.3 192.5,166.6 196.5,165.9 200.5,166.1 204.5,167.2 208.5,168.8 212.5,169.2 216.5,168.0 220.5,167.4 224.5,167.0 228.5,166.5 232.5,164.6 236.5,163.8 240.5,163.4 244.5,163.5 248.5,164.9 252.5,164.3 256.5,165.3 260.5,167.3 264.5,169.3 268.5,174.1 272.5,177.7 276.5,183.4 280.5,189.6 284.5,195.1 288.5,199.3 292.5,203.4 296.5,206.1 300.5,207.2 304.5,208.0 308.5,208.7 312.5,209.6 316.5,210.0 320.5,209.9 324.5,209.8 328.5,209.0 332.5,209.3 336.5,210.7 340.5,213.6 344.5,216.3 348.5,219.1 352.5,225.3 356.5,231.1 360.5,236.6 364.5,241.7 368.5,245.0 372.5,246.7 376.5,248.0 380.5,248.1 384.5,248.1 388.5,246.6 392.5,245.4 396.5,243.7 400.5,241.6 404.5,241.1 408.5,241.1 412.5,240.8 416.5,242.2 420.5,244.7 424.5,247.5 428.5,250.3 432.5,253.4 436.5,256.9 440.5,261.3 444.5,264.8 448.5,269.2 452.5,273.4 456.5,276.9 460.5,278.5 464.5,279.2 468.5,280.5 472.5,279.8 476.5,278.1 480.5,276.7 484.5,274.7 488.5,274.4 492.5,274.7 496.5,276.3 500.5,278.8 504.5,280.7 508.5,282.7 512.5,286.1 516.5,290.2 520.5,295.8 524.5,299.0 528.5,302.5 532.5,306.6 536.5,308.1 540.5,308.2 544.5,309.5 548.5,310.5 552.5,311.0 556.5,311.3 560.5,311.5 564.5,312.4 568.5,312.1 572.5,311.5 576.5,311.2 580.5,312.0 584.5,313.8 588.5,315.2 592.5,317.4 596.5,320.9 600.5,324.3 604.5,327.7 608.5,331.1 612.5,334.7 616.5,336.4 620.5,337.3 624.5,338.1 628.5,339.8 632.5,340.7 636.5,342.2 640.5,342.2 644.5,342.3 648.5,341.8 652.5,340.7 656.5,340.2 660.5,340.3 664.5,337.5 668.5,334.0 672.5,330.3 676.5,327.5 680.5,324.0 684.5,321.3 688.5,320.2 692.5,320.8 696.5,321.5 700.5,321.4 704.5,321.7 708.5,321.5 712.5,318.8 716.5,314.6 720.5,309.3 724.5,303.7 728.5,297.9 732.5,292.0 736.5,287.0 740.5,282.4 744.5,278.2 748.5,275.3 752.5,272.2 756.5,268.6 760.5,265.0 764.5,263.4 768.5,262.1 772.5,262.1 776.5,262.8 780.5,262.3 784.5,263.2 788.5,265.0 792.5,266.7 796.5,268.0 800.5,270.6 804.5,272.6 808.5,273.8 812.5,273.7 816.5,273.3 820.5,273.8 824.5,274.8 828.5,276.7 832.5,279.9 836.5,285.2 840.5,291.4 844.5,297.7 848.5,303.7 852.5,310.3 856.5,318.1 860.5,324.8 864.5,331.5 868.5,334.3 872.5,336.8 876.5,337.7 880.5,339.7 884.5,339.5 888.5,340.0 892.5,339.9 896.5,340.6 900.5,343.5 904.5,347.5 908.5,351.7 912.5,356.2 916.5,360.3 920.5,363.3 924.5,366.7 928.5,370.2 932.5,372.1 936.5,374.0 940.5,376.7 944.5,378.3 948.5,379.7 952.5,382.2 956.5,385.6 960.5,389.4 964.5,393.8 968.5,398.4 972.5,401.0 976.5,401.6 980.5,403.4 984.5,405.4 988.5,408.9 992.5,413.2 996.5,419.1 1000.5,422.4 1004.5,426.2 1008.5,429.7 1012.5,434.9 1016.5,437.9 1020.5,440.0 1024.5,441.5 1028.5,443.6 1032.5,445.7 1036.5,448.4 1040.5,450.5 1044.5,454.3 1048.5,458.1 1052.5,463.3 1056.5,468.5 1060.5,473.7 1064.5,477.8 1068.5,481.2 1072.5,482.8 1076.5,483.2 1080.5,483.0 1084.5,482.6 1088.5,483.1 1092.5,484.3 1096.5,484.8 1100.5,484.9 1104.5,484.5 1108.5,485.3 1112.5,485.2 1116.5,483.3 1120.5,482.0 1124.5,479.9 1128.5,477.5 1132.5,474.0 1136.5,472.1 1140.5,470.6 1144.5,469.4 1148.5,467.4 1152.5,465.8 1156.5,463.2 1160.5,460.4 1164.5,455.9 1168.5,450.4 1172.5,444.6 1176.5,439.0 1180.5,432.6 1184.5,429.0 1188.5,425.9 1192.5,424.5 1196.5,423.2 1200.5,422.3 1204.5,421.0 1208.5,419.4 1212.5,418.6 1216.5,419.0 1220.5,418.7 1224.5,418.4 1228.5,417.0 1232.5,415.8 1236.5,416.2 1240.5,417.5 1244.5,420.6 1248.5,424.0 1252.5,427.4 1256.5,430.6 1260.5,433.6 1264.5,435.9 1268.5,437.2 1272.5,438.8 1276.5,439.4 1280.5,440.3 1284.5,441.2 1288.5,442.7 1292.5,445.9 1296.5,448.7 1300.5,450.8 1304.5,450.4 1308.5,450.2 1312.5,448.4 1316.5,445.5 1320.5,443.0 1324.5,440.4 1328.5,436.8 1332.5,433.9 1336.5,431.0 1340.5,429.4" fill="none" stroke="#0000cd" stroke-width="1"/>
<polyline points="4.5,211.2 8.5,216.0 12.5,215.4 16.5,208.9 20.5,208.3 24.5,209.5 28.5,212.4 32.5,216.5 36.5,221.9 40.5,224.2 44.5,223.6 48.5,222.5 52.5,220.7 56.5,221.4 60.5,219.9 64.5,216.9 68.5,215.6 72.5,220.2 76.5,219.4 80.5,216.3 84.5,212.2 88.5,208.7 92.5,204.9 96.5,205.6 100.5,204.4 104.5,205.6 108.5,203.9 112.5,199.8 116.5,196.1 120.5,190.9 124.5,183.6 128.5,174.9 132.5,173.9 136.5,172.4 140.5,173.0 144.5,173.8 148.5,171.1 152.5,167.1 156.5,161.9 160.5,155.1 164.5,151.2 168.5,147.7 172.5,146.0 176.5,146.1 180.5,148.2 184.5,152.8 188.5,152.1 192.5,153.4 196.5,155.9 200.5,158.4 204.5,162.9 208.5,167.7 212.5,173.9 216.5,179.7 220.5,182.0 224.5,184.6 228.5,186.9 232.5,184.9 236.5,180.9 240.5,176.6 244.5,173.3 248.5,171.4 252.5,170.6 256.5,170.5 260.5,173.3 264.5,175.0 268.5,181.6 272.5,187.9 276.5,196.0 280.5,203.5 284.5,212.4 288.5,222.1 292.5,230.9 296.5,237.6 300.5,241.9 304.5,245.1 308.5,247.2 312.5,248.4 316.5,247.4 320.5,245.3 324.5,239.6 328.5,234.8 332.5,229.4 336.5,225.0 340.5,221.7 344.5,221.1 348.5,220.5 352.5,226.1 356.5,232.1 360.5,237.8 364.5,244.0 368.5,247.2 372.5,249.2 376.5,252.2 380.5,255.2 384.5,258.9 388.5,261.6 392.5,262.1 396.5,260.5 400.5,257.6 404.5,259.5 408.5,256.1 412.5,251.6 416.5,249.6 420.5,248.2 424.5,250.5 428.5,254.9 432.5,259.8 436.5,266.2 440.5,273.4 444.5,278.6 448.5,285.7 452.5,293.1 456.5,300.8 460.5,301.9 464.5,302.7 468.5,305.7 472.5,306.6 476.5,303.7 480.5,300.4 484.5,296.4 488.5,292.2 492.5,287.4 496.5,284.4 500.5,285.1 504.5,283.6 508.5,281.4 512.5,281.9 516.5,285.6 520.5,293.1 524.5,299.1 528.5,304.9 532.5,312.6 536.5,316.8 540.5,319.9 544.5,325.7 548.5,331.6 552.5,334.1 556.5,335.9 560.5,339.4 564.5,342.3 568.5,341.4 572.5,338.7 576.5,333.8 580.5,329.6 584.5,326.8 588.5,324.3 592.5,326.6 596.5,331.0 600.5,332.3 604.5,333.3 608.5,335.3 612.5,337.6 616.5,337.9 620.5,338.4 624.5,339.4 628.5,342.1 632.5,345.1 636.5,350.4 640.5,354.0 644.5,357.1 648.5,357.2 652.5,355.0 656.5,350.8 660.5,346.9 664.5,339.4 668.5,330.2 672.5,321.1 676.5,314.9 680.5,309.1 684.5,302.7 688.5,297.4 692.5,292.9 696.5,289.4 700.5,284.9 704.5,283.6 708.5,283.1 712.5,280.6 716.5,275.9 720.5,271.9 724.5,268.2 728.5,265.8 732.5,261.5 736.5,258.6 740.5,255.0 744.5,249.4 748.5,244.6 752.5,239.4 756.5,237.3 760.5,232.6 764.5,232.6 768.5,235.9 772.5,242.5 776.5,251.1 780.5,258.3 784.5,265.0 788.5,272.4 792.5,277.6 796.5,283.9 800.5,292.9 804.5,296.9 808.5,300.9 812.5,303.7 816.5,307.2 820.5,307.2 824.5,310.9 828.5,314.4 832.5,317.4 836.5,325.0 840.5,332.3 844.5,338.3 848.5,345.1 852.5,352.1 856.5,360.4 860.5,366.8 864.5,373.1 868.5,374.4 872.5,375.4 876.5,374.3 880.5,371.6 884.5,367.2 888.5,364.5 892.5,359.6 896.5,356.6 900.5,356.5 904.5,358.9 908.5,361.1 912.5,359.1 916.5,360.0 920.5,361.0 924.5,366.4 928.5,372.5 932.5,377.4 936.5,380.7 940.5,386.8 944.5,392.9 948.5,399.9 952.5,406.6 956.5,415.1 960.5,421.9 964.5,428.5 968.5,435.6 972.5,439.5 976.5,442.4 980.5,445.4 984.5,448.6 988.5,453.4 992.5,459.5 996.5,465.3 1000.5,466.2 1004.5,466.7 1008.5,466.2 1012.5,465.3 1016.5,460.6 1020.5,455.6 1024.5,451.2 1028.5,452.4 1032.5,453.6 1036.5,456.5 1040.5,457.6 1044.5,463.6 1048.5,468.7 1052.5,472.1 1056.5,479.4 1060.5,488.7 1064.5,496.0 1068.5,499.0 1072.5,502.9 1076.5,507.6 1080.5,511.0 1084.5,512.0 1088.5,515.7 1092.5,516.4 1096.5,515.9 1100.5,510.9 1104.5,505.1 1108.5,500.5 1112.5,495.4 1116.5,485.9 1120.5,475.1 1124.5,464.0 1128.5,454.7 1132.5,445.4 1136.5,437.1 1140.5,429.9 1144.5,421.9 1148.5,416.3 1152.5,412.9 1156.5,410.0 1160.5,406.0 1164.5,400.6 1168.5,394.1 1172.5,389.1 1176.5,387.4 1180.5,387.4 1184.5,392.2 1188.5,396.0 1192.5,400.9 1196.5,406.1 1200.5,410.2 1204.5,412.6 1208.5,416.2 1212.5,420.8 1216.5,427.1 1220.5,431.0 1224.5,436.4 1228.5,441.2 1232.5,445.7 1236.5,450.6 1240.5,450.4 1244.5,452.6 1248.5,453.8 1252.5,454.4 1256.5,454.9 1260.5,456.9 1264.5,457.3 1268.5,456.3 1272.5,455.5 1276.5,454.4 1280.5,452.9 1284.5,452.5 1288.5,451.7 1292.5,452.9 1296.5,454.2 1300.5,452.2 1304.5,448.7 1308.5,444.8 1312.5,439.0 1316.5,431.5 1320.5,425.4 1324.5,419.5 1328.5,411.9 1332.5,409.0 1336.5,407.3 1340.5,405.9" fill="none" stroke="#ff0000" stroke-width="1"/>
<polyline points="4.5,209.5 8.5,220.1 12.5,244.3 16.5,239.0 20.5,239.9 24.5,244.7 28.5,236.1 32.5,224.5 36.5,231.3 40.5,221.9 44.5,209.3 48.5,197.7 52.5,194.1 56.5,197.1 60.5,199.3 64.5,206.1 68.5,225.3 72.5,236.1 76.5,234.1 80.5,234.5 84.5,223.1 88.5,205.1 92.5,188.3 96.5,183.3 100.5,175.9 104.5,179.3 108.5,180.7 112.5,182.9 116.5,172.7 120.5,168.5 124.5,163.5 128.5,154.7 132.5,161.7 136.5,168.1 140.5,172.9 144.5,177.7 148.5,177.7 152.5,164.3 156.5,146.5 160.5,129.3 164.5,117.5 168.5,117.5 172.5,113.5 176.5,124.5 180.5,144.1 184.5,159.1 188.5,173.9 192.5,188.7 196.5,200.3 200.5,206.1 204.5,206.1 208.5,208.1 212.5,203.9 216.5,195.9 220.5,183.7 224.5,178.3 228.5,167.3 232.5,155.5 236.5,147.5 240.5,144.1 244.5,142.1 248.5,145.1 252.5,160.1 256.5,176.9 260.5,196.7 264.5,212.9 268.5,232.5 272.5,244.3 276.5,255.1 280.5,262.9 284.5,271.9 288.5,269.1 292.5,267.9 296.5,260.7 300.5,249.7 304.5,236.9 308.5,230.3 312.5,225.9 316.5,223.9 320.5,222.3 324.5,216.9 328.5,209.5 332.5,201.9 336.5,200.3 340.5,205.9 344.5,217.3 348.5,227.9 352.5,251.5 356.5,269.7 360.5,281.9 364.5,294.5 368.5,300.7 372.5,288.7 376.5,278.5 380.5,265.7 384.5,251.3 388.5,242.1 392.5,236.5 396.5,229.1 400.5,223.9 404.5,229.5 408.5,236.1 412.5,240.1 416.5,251.5 420.5,268.3 424.5,275.5 428.5,285.5 432.5,301.5 436.5,312.1 440.5,321.9 444.5,320.7 448.5,322.7 452.5,322.3 456.5,320.7 460.5,309.1 464.5,303.7 468.5,296.1 472.5,289.5 476.5,276.5 480.5,271.5 484.5,267.7 488.5,263.7 492.5,258.3 496.5,267.9 500.5,277.9 504.5,287.1 508.5,292.1 512.5,305.1 516.5,312.5 520.5,325.9 524.5,339.3 528.5,355.1 532.5,362.7 536.5,358.7 540.5,342.7 544.5,338.3 548.5,333.1 552.5,328.1 556.5,331.3 560.5,341.9 564.5,338.5 568.5,332.5 572.5,325.3 576.5,320.1 580.5,311.9 584.5,311.7 588.5,314.9 592.5,324.7 596.5,334.9 600.5,345.7 604.5,351.3 608.5,358.9 612.5,362.1 616.5,361.1 620.5,355.5 624.5,349.5 628.5,344.3 632.5,341.3 636.5,346.9 640.5,355.5 644.5,364.5 648.5,367.1 652.5,362.5 656.5,346.9 660.5,331.3 664.5,309.5 668.5,286.5 672.5,266.1 676.5,255.1 680.5,243.9 684.5,241.5 688.5,249.3 692.5,268.1 696.5,284.1 700.5,296.5 704.5,313.7 708.5,322.7 712.5,312.5 716.5,293.5 720.5,273.1 724.5,243.3 728.5,217.5 732.5,201.5 736.5,195.3 740.5,194.3 744.5,196.7 748.5,208.7 752.5,222.3 756.5,236.9 760.5,250.9 764.5,275.5 768.5,288.1 772.5,302.1 776.5,311.9 780.5,315.3 784.5,308.3 788.5,303.7 792.5,293.5 796.5,286.1 800.5,293.7 804.5,298.1 808.5,302.1 812.5,310.1 816.5,316.1 820.5,315.5 824.5,327.1 828.5,340.1 832.5,350.1 836.5,365.1 840.5,378.5 844.5,380.5 848.5,379.5 852.5,383.5 856.5,392.7 860.5,394.7 864.5,399.7 868.5,392.1 872.5,381.3 876.5,354.5 880.5,340.5 884.5,323.5 888.5,322.3 892.5,320.7 896.5,328.9 900.5,338.3 904.5,356.3 908.5,374.1 912.5,391.3 916.5,404.3 920.5,412.3 924.5,413.1 928.5,413.1 932.5,405.7 936.5,398.5 940.5,395.7 944.5,396.5 948.5,397.3 952.5,410.9 956.5,434.5 960.5,454.7 964.5,473.7 968.5,491.5 972.5,496.3 976.5,488.7 980.5,478.7 984.5,469.3 988.5,455.3 992.5,454.5 996.5,459.9 1000.5,454.9 1004.5,448.1 1008.5,446.9 1012.5,450.7 1016.5,441.7 1020.5,443.9 1024.5,448.1 1028.5,457.7 1032.5,456.1 1036.5,467.1 1040.5,475.1 1044.5,490.1 1048.5,500.1 1052.5,511.5 1056.5,519.1 1060.5,535.1 1064.5,537.5 1068.5,535.5 1072.5,527.9 1076.5,522.9 1080.5,510.5 1084.5,502.5 1088.5,502.9 1092.5,504.9 1096.5,498.1 1100.5,489.7 1104.5,480.7 1108.5,468.9 1112.5,460.3 1116.5,451.1 1120.5,437.5 1124.5,420.5 1128.5,399.7 1132.5,383.1 1136.5,374.1 1140.5,375.9 1144.5,384.9 1148.5,397.3 1152.5,407.1 1156.5,413.7 1160.5,413.7 1164.5,409.5 1168.5,398.1 1172.5,384.5 1176.5,374.1 1180.5,368.5 1184.5,376.1 1188.5,388.5 1192.5,406.9 1196.5,428.3 1200.5,448.7 1204.5,454.5 1208.5,463.7 1212.5,469.5 1216.5,472.5 1220.5,467.7 1224.5,464.7 1228.5,454.5 1232.5,443.9 1236.5,434.3 1240.5,430.5 1244.5,433.9 1248.5,442.1 1252.5,452.5 1256.5,460.7 1260.5,472.7 1264.5,476.7 1268.5,476.5 1272.5,475.7 1276.5,466.5 1280.5,453.5 1284.5,441.1 1288.5,431.1 1292.5,427.1 1296.5,429.9 1300.5,431.9 1304.5,431.5 1308.5,433.1 1312.5,421.7 1316.5,409.1 1320.5,401.7 1324.5,394.7 1328.5,383.5 1332.5,382.5 1336.5,385.7 1340.5,386.3" fill="none" stroke="#ffa500" stroke-width="1"/>
</g>
<g clip-path="url(#rsiclip)">
<polyline points="4.5,651.7 8.5,656.4 12.5,657.8 16.5,644.4 20.5,650.6 24.5,651.7 28.5,647.6 32.5,647.2 36.5,648.0 40.5,643.6 44.5,642.6 48.5,639.2 52.5,645.2 56.5,650.6 60.5,645.5 64.5,647.8 68.5,652.7 72.5,651.9 76.5,647.8 80.5,644.5 84.5,638.6 88.5,639.5 92.5,639.6 96.5,645.4 100.5,640.4 104.5,642.3 108.5,641.5 112.5,642.4 116.5,638.0 120.5,637.3 124.5,638.9 128.5,635.0 132.5,650.3 136.5,645.2 140.5,643.4 144.5,644.6 148.5,637.5 152.5,640.5 156.5,633.8 160.5,632.7 164.5,638.9 168.5,640.7 172.5,640.3 176.5,644.2 180.5,649.6 184.5,651.2 188.5,652.7 192.5,652.1 196.5,653.1 200.5,654.0 204.5,649.8 208.5,653.4 212.5,646.1 216.5,643.5 220.5,640.5 224.5,644.0 228.5,642.4 232.5,635.6 236.5,637.1 240.5,638.8 244.5,644.1 248.5,647.7 252.5,651.9 256.5,654.6 260.5,658.2 264.5,659.0 268.5,664.0 272.5,659.4 276.5,660.9 280.5,662.0 284.5,663.6 288.5,656.4 292.5,654.0 296.5,648.9 300.5,646.1 304.5,646.5 308.5,648.0 312.5,648.5 316.5,646.2 320.5,643.4 324.5,638.9 328.5,637.9 332.5,638.3 336.5,645.5 340.5,652.6 344.5,655.4 348.5,652.7 352.5,665.1 356.5,663.5 360.5,662.2 364.5,664.5 368.5,652.5 372.5,646.6 376.5,647.4 380.5,643.5 384.5,645.0 388.5,641.7 392.5,640.1 396.5,639.0 400.5,637.6 404.5,652.5 408.5,650.2 412.5,645.4 416.5,652.0 420.5,655.8 424.5,657.8 428.5,658.6 432.5,660.3 436.5,661.2 440.5,664.0 444.5,651.7 448.5,655.5 452.5,655.0 456.5,654.7 460.5,646.2 464.5,643.4 468.5,645.8 472.5,646.6 476.5,639.0 480.5,640.8 484.5,639.5 488.5,642.0 492.5,641.0 496.5,651.7 500.5,653.6 504.5,650.7 508.5,647.4 512.5,655.3 516.5,657.9 520.5,664.0 524.5,661.1 528.5,661.1 532.5,659.5 536.5,647.6 540.5,643.0 544.5,652.4 548.5,651.5 552.5,650.5 556.5,649.8 560.5,653.1 564.5,647.6 568.5,643.7 572.5,641.5 576.5,643.3 580.5,643.6 584.5,648.2 588.5,648.2 592.5,653.7 596.5,655.7 600.5,656.6 604.5,653.8 608.5,656.2 612.5,656.5 616.5,652.0 620.5,645.7 624.5,642.7 628.5,647.1 632.5,650.5 636.5,658.0 640.5,656.6 644.5,653.8 648.5,647.9 652.5,641.2 656.5,635.6 660.5,634.8 664.5,627.5 668.5,623.9 672.5,622.5 676.5,630.0 680.5,629.1 684.5,630.8 688.5,638.9 692.5,649.3 696.5,651.1 700.5,645.7 704.5,651.5 708.5,648.3 712.5,638.4 716.5,633.3 720.5,629.4 724.5,627.4 728.5,628.8 732.5,628.4 736.5,632.0 740.5,631.4 744.5,631.3 748.5,644.3 752.5,645.4 756.5,649.2 760.5,647.6 764.5,656.8 768.5,655.3 772.5,657.3 776.5,656.7 780.5,647.5 784.5,647.5 788.5,648.8 792.5,645.0 796.5,647.7 800.5,654.9 804.5,650.9 808.5,651.7 812.5,652.5 816.5,653.0 820.5,653.6 824.5,662.3 828.5,664.0 832.5,660.4 836.5,664.8 840.5,663.1 844.5,659.2 848.5,658.0 852.5,660.7 856.5,668.7 860.5,657.1 864.5,657.6 868.5,643.2 872.5,642.9 876.5,638.3 880.5,643.0 884.5,640.8 888.5,643.3 892.5,642.6 896.5,647.2 900.5,652.5 904.5,657.4 908.5,659.0 912.5,657.3 916.5,657.4 920.5,658.1 924.5,656.6 928.5,658.0 932.5,646.2 936.5,646.6 940.5,652.2 944.5,654.8 948.5,656.1 952.5,659.8 956.5,667.2 960.5,668.3 964.5,669.1 968.5,669.2 972.5,655.8 976.5,653.3 980.5,652.5 984.5,654.5 988.5,648.7 992.5,653.1 996.5,656.9 1000.5,644.4 1004.5,644.6 1008.5,645.9 1012.5,654.5 1016.5,645.7 1020.5,645.9 1024.5,648.0 1028.5,653.7 1032.5,651.5 1036.5,654.9 1040.5,651.7 1044.5,658.8 1048.5,659.9 1052.5,659.1 1056.5,659.3 1060.5,663.4 1064.5,657.5 1068.5,654.0 1072.5,647.1 1076.5,649.8 1080.5,647.8 1084.5,647.8 1088.5,653.4 1092.5,648.0 1096.5,641.8 1100.5,638.7 1104.5,638.2 1108.5,641.6 1112.5,640.1 1116.5,634.0 1120.5,628.2 1124.5,625.7 1128.5,625.1 1132.5,629.1 1136.5,630.5 1140.5,634.7 1144.5,638.9 1148.5,641.9 1152.5,642.2 1156.5,639.7 1160.5,635.9 1164.5,634.8 1168.5,630.2 1172.5,628.5 1176.5,630.2 1180.5,632.3 1184.5,648.9 1188.5,648.9 1192.5,653.2 1196.5,657.0 1200.5,657.2 1204.5,653.6 1208.5,657.1 1212.5,657.7 1216.5,658.9 1220.5,647.5 1224.5,646.7 1228.5,641.9 1232.5,642.2 1236.5,645.3 1240.5,642.9 1244.5,651.5 1248.5,652.7 1252.5,655.4 1256.5,655.4 1260.5,657.8 1264.5,655.2 1268.5,649.6 1272.5,652.1 1276.5,640.0 1280.5,637.9 1284.5,636.9 1288.5,636.0 1292.5,647.7 1296.5,645.5 1300.5,642.1 1304.5,638.2 1308.5,640.0 1312.5,634.1 1316.5,631.3 1320.5,635.6 1324.5,632.7 1328.5,629.8 1332.5,637.7 1336.5,639.8 1340.5,639.8" fill="none" stroke="#1e90ff" stroke-width="1"/>
</g>
<g clip-path="url(#macdclip)">
<path d="M4,747h1v22h-1zM8,747h1v27h-1zM12,747h1v32h-1zM16,747h1v26h-1zM20,747h1v26h-1zM24,747h1v28h-1zM28,747h1v25h-1zM32,747h1v22h-1zM36,747h1v21h-1zM40,747h1v16h-1zM44,747h1v12h-1zM48,747h1v5h-1zM52,747h1v4h-1zM56,747h1v8h-1zM60,747h1v7h-1zM64,747h1v7h-1zM68,747h1v12h-1zM72,747h1v15h-1zM76,747h1v14h-1zM80,747h1v11h-1zM84,747h1v4h-1zM88,746h1v1h-1zM92,742h1v5h-1zM96,743h1v4h-1zM100,740h1v7h-1zM104,738h1v9h-1zM108,737h1v10h-1zM112,737h1v10h-1zM116,734h1v13h-1zM120,731h1v16h-1zM124,730h1v17h-1zM128,726h1v21h-1zM132,733h1v14h-1zM136,735h1v12h-1zM140,735h1v12h-1zM144,737h1v10h-1zM148,733h1v14h-1zM152,731h1v16h-1zM156,725h1v22h-1zM160,719h1v28h-1zM164,719h1v28h-1zM168,720h1v27h-1zM172,721h1v26h-1zM176,724h1v23h-1zM180,730h1v17h-1zM184,737h1v10h-1zM188,743h1v4h-1zM192,747h1v2h-1zM196,747h1v6h-1zM200,747h1v10h-1zM204,747h1v11h-1zM208,747h1v13h-1zM212,747h1v12h-1zM216,747h1v9h-1zM220,747h1v5h-1zM224,747h1v4h-1zM228,747h1v2h-1zM232,742h1v5h-1zM236,738h1v9h-1zM240,736h1v11h-1zM244,737h1v10h-1zM248,740h1v7h-1zM252,744h1v3h-1zM256,747h1v3h-1zM260,747h1v10h-1zM264,747h1v15h-1zM268,747h1v23h-1zM272,747h1v27h-1zM276,747h1v31h-1zM280,747h1v34h-1zM284,747h1v38h-1zM288,747h1v37h-1zM292,747h1v36h-1zM296,747h1v32h-1zM300,747h1v27h-1zM304,747h1v24h-1zM308,747h1v21h-1zM312,747h1v19h-1zM316,747h1v16h-1zM320,747h1v13h-1zM324,747h1v9h-1zM328,747h1v5h-1zM332,747h1v2h-1zM336,747h1v1h-1zM340,747h1v4h-1zM344,747h1v7h-1zM348,747h1v9h-1zM352,747h1v17h-1zM356,747h1v23h-1zM360,747h1v27h-1zM364,747h1v31h-1zM368,747h1v30h-1zM372,747h1v26h-1zM376,747h1v23h-1zM380,747h1v18h-1zM384,747h1v15h-1zM388,747h1v11h-1zM392,747h1v7h-1zM396,747h1v4h-1zM400,746h1v1h-1zM404,747h1v4h-1zM408,747h1v5h-1zM412,747h1v5h-1zM416,747h1v7h-1zM420,747h1v12h-1zM424,747h1v16h-1zM428,747h1v20h-1zM432,747h1v24h-1zM436,747h1v27h-1zM440,747h1v31h-1zM444,747h1v30h-1zM448,747h1v30h-1zM452,747h1v30h-1zM456,747h1v30h-1zM460,747h1v26h-1zM464,747h1v21h-1zM468,747h1v18h-1zM472,747h1v15h-1zM476,747h1v10h-1zM480,747h1v6h-1zM484,747h1v3h-1zM488,747h1v1h-1zM492,745h1v2h-1zM496,747h1v2h-1zM500,747h1v6h-1zM504,747h1v7h-1zM508,747h1v7h-1zM512,747h1v11h-1zM516,747h1v15h-1zM520,747h1v22h-1zM524,747h1v26h-1zM528,747h1v30h-1zM532,747h1v31h-1zM536,747h1v27h-1zM540,747h1v22h-1zM544,747h1v23h-1zM548,747h1v22h-1zM552,747h1v21h-1zM556,747h1v20h-1zM560,747h1v21h-1zM564,747h1v19h-1zM568,747h1v15h-1zM572,747h1v11h-1zM576,747h1v8h-1zM580,747h1v6h-1zM584,747h1v7h-1zM588,747h1v7h-1zM592,747h1v9h-1zM596,747h1v12h-1zM600,747h1v15h-1zM604,747h1v15h-1zM608,747h1v17h-1zM612,747h1v18h-1zM616,747h1v18h-1zM620,747h1v15h-1zM624,747h1v12h-1zM628,747h1v11h-1zM632,747h1v11h-1zM636,747h1v14h-1zM640,747h1v16h-1zM644,747h1v17h-1zM648,747h1v15h-1zM652,747h1v11h-1zM656,747h1v6h-1zM660,747h1v1h-1zM664,738h1v9h-1zM668,730h1v17h-1zM672,722h1v25h-1zM676,718h1v29h-1zM680,716h1v31h-1zM684,714h1v33h-1zM688,716h1v31h-1zM692,723h1v24h-1zM696,730h1v17h-1zM700,732h1v15h-1zM704,738h1v9h-1zM708,741h1v6h-1zM712,738h1v9h-1zM716,732h1v15h-1zM720,724h1v23h-1zM724,716h1v31h-1zM728,711h1v36h-1zM732,707h1v40h-1zM736,706h1v41h-1zM740,705h1v42h-1zM744,705h1v42h-1zM748,711h1v36h-1zM752,717h1v30h-1zM756,723h1v24h-1zM760,728h1v19h-1zM764,738h1v9h-1zM768,745h1v2h-1zM772,747h1v5h-1zM776,747h1v10h-1zM780,747h1v10h-1zM784,747h1v10h-1zM788,747h1v10h-1zM792,747h1v8h-1zM796,747h1v8h-1zM800,747h1v12h-1zM804,747h1v13h-1zM808,747h1v14h-1zM812,747h1v15h-1zM816,747h1v16h-1zM820,747h1v17h-1zM824,747h1v22h-1zM828,747h1v27h-1zM832,747h1v30h-1zM836,747h1v34h-1zM840,747h1v37h-1zM844,747h1v37h-1zM848,747h1v37h-1zM852,747h1v38h-1zM856,747h1v43h-1zM860,747h1v43h-1zM864,747h1v42h-1zM868,747h1v34h-1zM872,747h1v28h-1zM876,747h1v19h-1zM880,747h1v15h-1zM884,747h1v10h-1zM888,747h1v7h-1zM892,747h1v5h-1zM896,747h1v5h-1zM900,747h1v8h-1zM904,747h1v14h-1zM908,747h1v19h-1zM912,747h1v23h-1zM916,747h1v25h-1zM920,747h1v27h-1zM924,747h1v28h-1zM928,747h1v29h-1zM932,747h1v25h-1zM936,747h1v22h-1zM940,747h1v22h-1zM944,747h1v23h-1zM948,747h1v24h-1zM952,747h1v27h-1zM956,747h1v35h-1zM960,747h1v41h-1zM964,747h1v46h-1zM968,747h1v50h-1zM972,747h1v48h-1zM976,747h1v44h-1zM980,747h1v41h-1zM984,747h1v39h-1zM988,747h1v34h-1zM992,747h1v33h-1zM996,747h1v33h-1zM1000,747h1v27h-1zM1004,747h1v23h-1zM1008,747h1v19h-1zM1012,747h1v21h-1zM1016,747h1v18h-1zM1020,747h1v16h-1zM1024,747h1v15h-1zM1028,747h1v17h-1zM1032,747h1v18h-1zM1036,747h1v21h-1zM1040,747h1v21h-1zM1044,747h1v26h-1zM1048,747h1v30h-1zM1052,747h1v33h-1zM1056,747h1v35h-1zM1060,747h1v39h-1zM1064,747h1v39h-1zM1068,747h1v38h-1zM1072,747h1v33h-1zM1076,747h1v30h-1zM1080,747h1v27h-1zM1084,747h1v24h-1zM1088,747h1v24h-1zM1092,747h1v22h-1zM1096,747h1v16h-1zM1100,747h1v10h-1zM1104,747h1v5h-1zM1108,747h1v2h-1zM1112,745h1v2h-1zM1116,740h1v7h-1zM1120,731h1v16h-1zM1124,723h1v24h-1zM1128,716h1v31h-1zM1132,712h1v35h-1zM1136,710h1v37h-1zM1140,711h1v36h-1zM1144,713h1v34h-1zM1148,717h1v30h-1zM1152,720h1v27h-1zM1156,722h1v25h-1zM1160,721h1v26h-1zM1164,721h1v26h-1zM1168,718h1v29h-1zM1172,716h1v31h-1zM1176,714h1v33h-1zM1180,714h1v33h-1zM1184,721h1v26h-1zM1188,727h1v20h-1zM1192,734h1v13h-1zM1196,741h1v6h-1zM1200,747h1v1h-1zM1204,747h1v5h-1zM1208,747h1v9h-1zM1212,747h1v13h-1zM1216,747h1v17h-1zM1220,747h1v15h-1zM1224,747h1v13h-1zM1228,747h1v10h-1zM1232,747h1v7h-1zM1236,747h1v6h-1zM1240,747h1v4h-1zM1244,747h1v6h-1zM1248,747h1v8h-1zM1252,747h1v11h-1zM1256,747h1v13h-1zM1260,747h1v16h-1zM1264,747h1v17h-1zM1268,747h1v16h-1zM1272,747h1v16h-1zM1276,747h1v11h-1zM1280,747h1v7h-1zM1284,747h1v2h-1zM1288,745h1v2h-1zM1292,746h1v1h-1zM1296,746h1v1h-1zM1300,745h1v2h-1zM1304,742h1v5h-1zM1308,741h1v6h-1zM1312,737h1v10h-1zM1316,733h1v14h-1zM1320,731h1v16h-1zM1324,728h1v19h-1zM1328,725h1v22h-1zM1332,725h1v22h-1zM1336,726h1v21h-1zM1340,727h1v20h-1z" fill="#c0c0c0"/>
<polyline points="4.5,772.8 8.5,771.0 12.5,769.8 16.5,769.8 20.5,770.3 24.5,770.9 28.5,771.5 32.5,772.1 36.5,771.9 40.5,771.3 44.5,769.6 48.5,766.7 52.5,764.3 56.5,762.2 60.5,759.9 64.5,757.9 68.5,756.7 72.5,756.1 76.5,755.9 80.5,755.8 84.5,755.7 88.5,755.2 92.5,753.9 96.5,752.7 100.5,751.2 104.5,749.0 108.5,746.4 112.5,743.8 116.5,741.1 120.5,739.0 124.5,737.2 128.5,735.5 132.5,734.4 136.5,733.9 140.5,733.6 144.5,733.5 148.5,733.1 152.5,732.8 156.5,732.2 160.5,731.0 164.5,730.2 168.5,728.7 172.5,727.2 176.5,725.9 180.5,725.2 184.5,725.7 188.5,727.0 192.5,729.5 196.5,733.1 200.5,737.2 204.5,741.2 208.5,745.5 212.5,749.3 216.5,752.0 220.5,753.6 224.5,754.3 228.5,754.3 232.5,753.2 236.5,751.3 240.5,749.0 244.5,746.6 248.5,744.6 252.5,743.4 256.5,743.2 260.5,743.9 264.5,745.4 268.5,748.4 272.5,752.3 276.5,756.8 280.5,761.5 284.5,766.4 288.5,770.7 292.5,774.3 296.5,776.7 300.5,778.1 304.5,778.1 308.5,777.5 312.5,776.2 316.5,774.2 320.5,771.5 324.5,768.3 328.5,764.9 332.5,761.5 336.5,758.7 340.5,756.5 344.5,755.0 348.5,753.9 352.5,754.0 356.5,755.1 360.5,757.1 364.5,760.0 368.5,763.2 372.5,765.9 376.5,767.9 380.5,769.1 384.5,769.8 388.5,769.2 392.5,767.4 396.5,764.8 400.5,761.4 404.5,758.5 408.5,756.2 412.5,754.2 416.5,753.0 420.5,752.6 424.5,753.1 428.5,754.6 432.5,756.8 436.5,759.9 440.5,763.0 444.5,765.7 448.5,768.5 452.5,771.1 456.5,773.1 460.5,774.1 464.5,774.2 468.5,773.5 472.5,772.1 476.5,769.8 480.5,767.2 484.5,764.1 488.5,760.9 492.5,757.5 496.5,755.0 500.5,753.3 504.5,752.1 508.5,751.2 512.5,751.2 516.5,752.2 520.5,754.3 524.5,757.1 528.5,760.4 532.5,763.6 536.5,766.1 540.5,767.7 544.5,769.4 548.5,770.7 552.5,771.5 556.5,771.3 560.5,770.7 564.5,769.5 568.5,767.7 572.5,765.8 576.5,764.3 580.5,762.5 584.5,760.7 588.5,759.1 592.5,757.9 596.5,756.9 600.5,756.4 604.5,756.5 608.5,757.2 612.5,758.3 616.5,759.6 620.5,760.6 624.5,761.1 628.5,761.3 632.5,761.2 636.5,761.2 640.5,761.3 644.5,761.2 648.5,760.9 652.5,760.2 656.5,759.1 660.5,757.8 664.5,755.8 668.5,752.8 672.5,748.5 676.5,743.6 680.5,738.4 684.5,733.1 688.5,728.6 692.5,725.4 696.5,723.5 700.5,722.9 704.5,723.8 708.5,725.9 712.5,728.0 716.5,729.8 720.5,730.8 724.5,730.8 728.5,729.5 732.5,727.0 736.5,724.0 740.5,720.4 744.5,716.4 748.5,713.4 752.5,711.8 756.5,711.7 760.5,713.1 764.5,716.0 768.5,720.2 772.5,725.2 776.5,730.9 780.5,736.6 784.5,741.6 788.5,745.9 792.5,749.4 796.5,752.3 800.5,754.5 804.5,756.1 808.5,757.1 812.5,757.7 816.5,758.4 820.5,759.2 824.5,760.6 828.5,762.7 832.5,765.1 836.5,767.6 840.5,770.3 844.5,772.9 848.5,775.3 852.5,777.7 856.5,780.6 860.5,782.8 864.5,784.5 868.5,785.0 872.5,784.2 876.5,782.2 880.5,779.7 884.5,776.7 888.5,773.4 892.5,769.1 896.5,764.9 900.5,761.1 904.5,758.8 908.5,757.8 912.5,758.2 916.5,759.4 920.5,761.4 924.5,763.7 928.5,766.4 932.5,768.7 936.5,770.2 940.5,771.1 944.5,771.4 948.5,771.6 952.5,771.8 956.5,772.6 960.5,774.0 964.5,775.9 968.5,778.7 972.5,781.6 976.5,784.1 980.5,786.1 984.5,787.7 988.5,788.4 992.5,788.2 996.5,787.3 1000.5,785.2 1004.5,782.2 1008.5,779.0 1012.5,776.5 1016.5,774.0 1020.5,771.5 1024.5,769.3 1028.5,767.6 1032.5,766.0 1036.5,765.2 1040.5,765.0 1044.5,765.7 1048.5,766.7 1052.5,768.3 1056.5,770.4 1060.5,773.1 1064.5,775.5 1068.5,777.7 1072.5,779.0 1076.5,780.1 1080.5,780.2 1084.5,779.4 1088.5,778.5 1092.5,777.0 1096.5,774.5 1100.5,771.2 1104.5,767.6 1108.5,764.2 1112.5,760.8 1116.5,757.1 1120.5,752.9 1124.5,747.6 1128.5,741.8 1132.5,736.3 1136.5,731.1 1140.5,726.6 1144.5,722.7 1148.5,719.5 1152.5,717.3 1156.5,716.3 1160.5,716.1 1164.5,716.7 1168.5,717.4 1172.5,718.1 1176.5,718.5 1180.5,718.6 1184.5,719.1 1188.5,719.9 1192.5,721.2 1196.5,723.4 1200.5,726.3 1204.5,729.9 1208.5,734.3 1212.5,739.3 1216.5,744.7 1220.5,749.1 1224.5,752.7 1228.5,755.2 1232.5,756.5 1236.5,757.1 1240.5,757.0 1244.5,756.7 1248.5,756.2 1252.5,755.6 1256.5,755.4 1260.5,755.7 1264.5,756.5 1268.5,757.5 1272.5,758.6 1276.5,759.3 1280.5,759.4 1284.5,758.7 1288.5,757.3 1292.5,755.8 1296.5,754.0 1300.5,752.0 1304.5,749.8 1308.5,747.5 1312.5,745.2 1316.5,743.0 1320.5,741.1 1324.5,739.2 1328.5,736.9 1332.5,734.5 1336.5,732.4 1340.5,730.7" fill="none" stroke="#ff0000" stroke-width="1" stroke-dasharray="3,3"/>
</g>
<rect x="4" y="396" width="1680" height="1" fill="#c0c0c0"/>
<rect x="4" y="330" width="1681" height="2" fill="#ff0000"/>
<rect x="4" y="406" width="1681" height="2" fill="#ff0000"/>
<rect x="4" y="482" width="1681" height="2" fill="#00ff00"/>
<rect x="4" y="573" width="1681" height="2" fill="#0000cd"/>
<rect x="3" y="328" width="6" height="6" fill="#ff0000"/>
<rect x="5" y="330" width="2" height="2" fill="#ffffff"/>
<rect x="1678" y="328" width="6" height="6" fill="#ff0000"/>
<rect x="1680" y="330" width="2" height="2" fill="#ffffff"/>
<rect x="1686" y="325" width="41" height="11" fill="#ff0000"/>
<text x="1690.2" y="334" font-size="10" fill="#fff" stroke="#fff" stroke-width="0.15" textLength="33.2" lengthAdjust="spacingAndGlyphs">1.12006</text>
<rect x="1686" y="391" width="41" height="11" fill="#000000"/>
<text x="1690.2" y="400" font-size="10" fill="#fff" stroke="#fff" stroke-width="0.15" textLength="33.2" lengthAdjust="spacingAndGlyphs">1.11148</text>
<rect x="1686" y="401" width="41" height="11" fill="#ff0000"/>
<text x="1690.2" y="410" font-size="10" fill="#fff" stroke="#fff" stroke-width="0.15" textLength="33.2" lengthAdjust="spacingAndGlyphs">1.11009</text>
<rect x="1686" y="477" width="41" height="11" fill="#00ff00"/>
<text x="1690.2" y="486" font-size="10" fill="#fff" stroke="#fff" stroke-width="0.15" textLength="33.2" lengthAdjust="spacingAndGlyphs">1.10008</text>
<rect x="1686" y="568" width="41" height="11" fill="#0000cd"/>
<text x="1690.2" y="577" font-size="10" fill="#fff" stroke="#fff" stroke-width="0.15" textLength="33.2" lengthAdjust="spacingAndGlyphs">1.08800</text>
</svg>
</body></html>
